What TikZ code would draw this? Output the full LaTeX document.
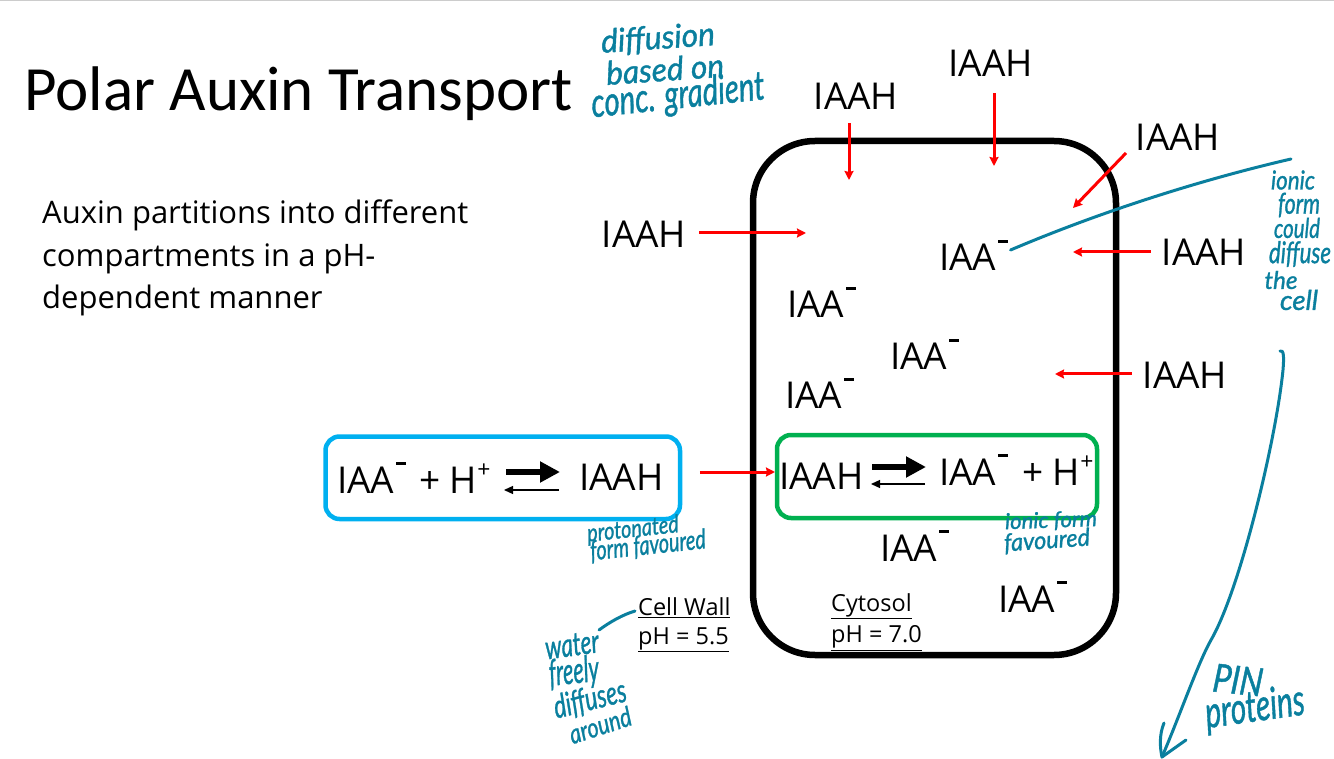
\documentclass[tikz,border=0pt]{standalone}
\usepackage{fontspec}
\usepackage{graphicx}
\setmainfont{Open Sans}
\newfontfamily\titlefont{Carlito}
\newfontfamily\handfont{Lato}[FakeBold=1.2]
\usetikzlibrary{arrows.meta}
\definecolor{teal1}{HTML}{0A7F9E}
\definecolor{blue1}{HTML}{00B0F0}
\definecolor{green1}{HTML}{00B050}
\definecolor{red1}{HTML}{FF0000}
\newcommand{\iaam}{IAA\hspace{2pt}\rule[28pt]{10pt}{2.6pt}}
\newcommand{\hplus}{H\raisebox{.42em}{\scalebox{.62}{+}}}
\newcommand{\hw}[3]{\resizebox{#1pt}{#2pt}{\handfont\itshape #3}}
\tikzset{
  x=1pt,y=-1pt,
  chem/.style={font=\fontsize{37}{37}\selectfont,text=black,inner sep=0pt},
  lab/.style={font=\fontsize{23.5}{30}\selectfont,inner sep=0pt,anchor=west},
  hand/.style={text=teal1,inner sep=0pt},
  redarrow/.style={draw=red1,line width=3pt,-{Stealth[length=9pt,width=9pt,inset=1pt]}},
  inkline/.style={draw=teal1,line width=3pt,line cap=round,line join=round},
  fatarrow/.style={draw=black,line width=5.5pt,-{Triangle[length=20pt,width=20pt]}},
  thinarrow/.style={draw=black,line width=1.3pt,-{Triangle[length=9pt,width=8pt]}},
  panel/.style={line width=4.5pt,rounded corners=14pt},
}
\begin{document}
\begin{tikzpicture}
\useasboundingbox (0,0) rectangle (1334,759);
\draw[gray!40,line width=1pt] (0,0.5) -- (1334,0.5);

\node[inner sep=0pt,anchor=base west,font=\titlefont\fontsize{63}{63}\selectfont] (title) at (24,111) {Polar Auxin Transport};
\node[inner sep=0pt,anchor=west,align=left,font=\fontsize{31}{42.5}\selectfont] (intro) at (42,258) {Auxin partitions into different\\compartments in a pH-\\dependent manner};

\draw[black,line width=6.5pt,rounded corners=62pt] (753,141) rectangle (1116,655);
\draw[panel,draw=blue1] (325.5,436.5) rectangle (680,519);
\draw[panel,draw=green1] (777,435) rectangle (1097,518);

% free IAAH
\node[chem] (a1) at (856,96) {IAAH};
\node[chem] (a2) at (990.5,63) {IAAH};
\node[chem] (a3) at (1178,137) {IAAH};
\node[chem] (a4) at (644,234) {IAAH};
\node[chem] (a5) at (1204,252) {IAAH};
\node[chem] (a6) at (1185,375) {IAAH};
% IAA-
\node[chem,anchor=base west] (m1) at (939,271) {\iaam};
\node[chem,anchor=base west] (m2) at (787,318) {\iaam};
\node[chem,anchor=base west] (m3) at (890,370) {\iaam};
\node[chem,anchor=base west] (m4) at (785,409) {\iaam};
\node[chem,anchor=base west] (m5) at (880,561) {\iaam};
\node[chem,anchor=base west] (m6) at (998,612) {\iaam};

% red arrows
\coordinate (e1) at (849,180);
\coordinate (e2) at (994,166);
\coordinate (s3) at (1126,153);
\coordinate (e3) at (1073,208);
\coordinate (e4) at (806,233);
\coordinate (e5) at (1073,252);
\coordinate (e6) at (1055,374);
\coordinate (e7) at (775,472);
\draw[redarrow] ([yshift=-14pt]a1.south -| e1) -- (e1);
\draw[redarrow] ([yshift=-17pt]a2.south -| e2) -- (e2);
\draw[redarrow] (s3) -- (e3);
\draw[redarrow] ([xshift=13pt]a4.east |- e4) -- (e4);
\draw[redarrow] ([xshift=-11pt]a5.west |- e5) -- (e5);
\draw[redarrow] ([xshift=-11pt]a6.west |- e6) -- (e6);

% wall equilibrium
\node[chem,anchor=base west] (w1) at (337,493) {\iaam};
\node[chem,anchor=base west] (w2) at (419,493) {+ \hplus};
\node[chem,anchor=west] (w3) at (579,477) {IAAH};
\coordinate (wa) at (506,472); \coordinate (wb) at (560,472);
\coordinate (wc) at (559,490); \coordinate (wd) at (504,490);
\draw[fatarrow] (wa) -- (wb);
\draw[thinarrow] (wc) -- (wd);
% cytosol equilibrium
\node[chem,anchor=west] (c1) at (779,476) {IAAH};
\node[chem,anchor=base west] (c2) at (939,485) {\iaam};
\node[chem,anchor=base west] (c3) at (1022,485) {+ \hplus};
\coordinate (ca) at (872,467); \coordinate (cb) at (926,467);
\coordinate (cc) at (925,484); \coordinate (cd) at (871,484);
\draw[fatarrow] (ca) -- (cb);
\draw[thinarrow] (cc) -- (cd);
\draw[redarrow] ([xshift=36pt]w3.east |- e7) -- (e7);

% labels
\node[lab] (wall1) at (638,608) {\underline{Cell Wall}};
\node[lab] (wall2) at (638,640) {\underline{pH = 5.5}};
\node[lab] (cyt1) at (831,606) {\underline{Cytosol}};
\node[lab] (cyt2) at (831,638) {\underline{pH = 7.0}};

% handwriting
\node[hand,rotate=4] (h1) at (658,39) {\hw{114}{24}{diffusion}};
\node[hand,rotate=4] (h2) at (665,69) {\hw{118}{24}{based on}};
\node[hand,rotate=6] (h3) at (678,97) {\hw{174}{30}{conc. gradient}};

\node[hand] (i1) at (1293,180) {\hw{44}{19}{ionic}};
\node[hand] (i2) at (1299,205) {\hw{42}{21}{form}};
\node[hand] (i3) at (1297,228) {\hw{46}{20}{could}};
\node[hand] (i4) at (1300,254) {\hw{62}{22}{diffuse}};
\node[hand] (i5) at (1281,280) {\hw{33}{18}{the}};
\node[hand] (i6) at (1299,300) {\hw{38}{20}{cell}};

\node[hand,rotate=6] (p1) at (633,530) {\hw{92}{18}{protonated}};
\node[hand,rotate=6] (p2) at (648,546) {\hw{116}{20}{form favoured}};

\node[hand,rotate=2] (q1) at (1051,521) {\hw{92}{16}{ionic form}};
\node[hand,rotate=4] (q2) at (1047,541) {\hw{86}{18}{favoured}};

\node[hand,rotate=8] (w5) at (572,645) {\hw{54}{22}{water}};
\node[hand,rotate=6] (w6) at (574,673) {\hw{50}{27}{freely}};
\node[hand,rotate=14] (w7) at (590,700) {\hw{74}{24}{diffuses}};
\node[hand,rotate=18] (w8) at (600,725) {\hw{64}{20}{around}};

\node[hand,rotate=-6] (k1) at (1238,680) {\hw{50}{28}{PIN}};
\node[hand,rotate=8] (k2) at (1255,709) {\hw{100}{32}{proteins}};

% ink lines
\coordinate (n1) at (1291,159);
\coordinate (n2) at (635,611);
\coordinate (n3) at (599,630);
\coordinate (tip) at (1162,757);
\draw[inkline] ([xshift=2pt,yshift=6pt]m1.east |- 0,256) .. controls (1100,212) and (1200,180) .. (n1);
\draw[inkline] (n2) .. controls (622,615) and (610,622) .. (n3);
\draw[inkline] (1280,351) .. controls (1284,349) and (1284,358) .. (1283,370)
   .. controls (1276,440) and (1240,590) .. (1211,640)
   .. controls (1198,663) and (1180,715) .. (tip);
\draw[inkline] (1164,723) .. controls (1159,735) and (1160,748) .. (tip) -- (1186,740);
\end{tikzpicture}
\end{document}
